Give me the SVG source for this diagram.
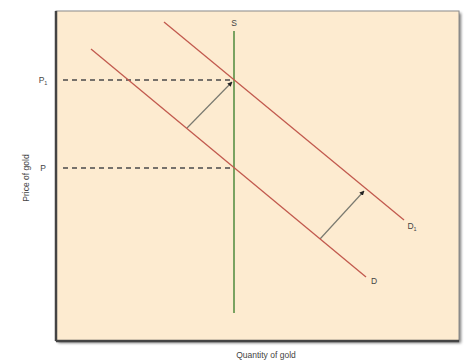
<svg xmlns="http://www.w3.org/2000/svg" width="468" height="362" viewBox="0 0 468 362">
<defs>
<style>
.lbl{font-family:"Liberation Sans",Arial,sans-serif;font-size:8.5px;fill:#444}
.dem{stroke:#c25a4e;stroke-width:1.3;fill:none}
.dash{stroke:#4a4a4a;stroke-width:1.3;stroke-dasharray:5,4;fill:none}
.shift{stroke:#7a7a70;stroke-width:1.2;fill:none}
</style>
<marker id="ah" viewBox="0 0 10 10" refX="9" refY="5" markerWidth="4" markerHeight="4" orient="auto">
<path d="M0,0 L10,5 L0,10 z" fill="#222"/>
</marker>
<filter id="sh" x="-5%" y="-5%" width="110%" height="110%">
<feGaussianBlur stdDeviation="1.5"/>
</filter>
</defs>
<rect width="468" height="362" fill="#ffffff"/>
<g id="frame">
<rect x="58" y="13" width="403" height="330" fill="#777" filter="url(#sh)"/>
<rect x="56" y="11" width="403" height="330" fill="#fdebd0" stroke="#8a8a8a" stroke-width="1"/>
<line x1="56" y1="11" x2="56" y2="341" stroke="#444" stroke-width="2.5"/>
<line x1="56" y1="341" x2="459" y2="341" stroke="#444" stroke-width="2.5"/>
</g>
<g id="connectors">
<line class="dash" x1="63" y1="80" x2="233" y2="80"/>
<line class="dash" x1="63" y1="168" x2="233" y2="168"/>
<line class="shift" x1="187" y1="128" x2="232" y2="82" marker-end="url(#ah)"/>
<line class="shift" x1="320" y1="239" x2="364" y2="191" marker-end="url(#ah)"/>
</g>
<g id="supply">
<line x1="234" y1="31" x2="234" y2="313" stroke="#4e8a3c" stroke-width="1.5"/>
<text class="lbl" x="234" y="26" text-anchor="middle">S</text>
</g>
<g id="demand">
<line class="dem" x1="91" y1="49" x2="366" y2="277"/>
<text class="lbl" x="374" y="284" text-anchor="middle">D</text>
</g>
<g id="demand1">
<line class="dem" x1="164" y1="22" x2="404" y2="220"/>
<text class="lbl" x="412" y="229" text-anchor="middle">D<tspan font-size="5.5" dy="2">1</tspan></text>
</g>
<g id="price-labels">
<text class="lbl" x="43" y="83" text-anchor="middle">P<tspan font-size="5.5" dy="2">1</tspan></text>
<text class="lbl" x="43" y="171" text-anchor="middle">P</text>
</g>
<g id="axis-labels">
<text class="lbl" x="266" y="358" text-anchor="middle">Quantity of gold</text>
<text class="lbl" transform="translate(29,178) rotate(-90)" text-anchor="middle">Price of gold</text>
</g>
</svg>
